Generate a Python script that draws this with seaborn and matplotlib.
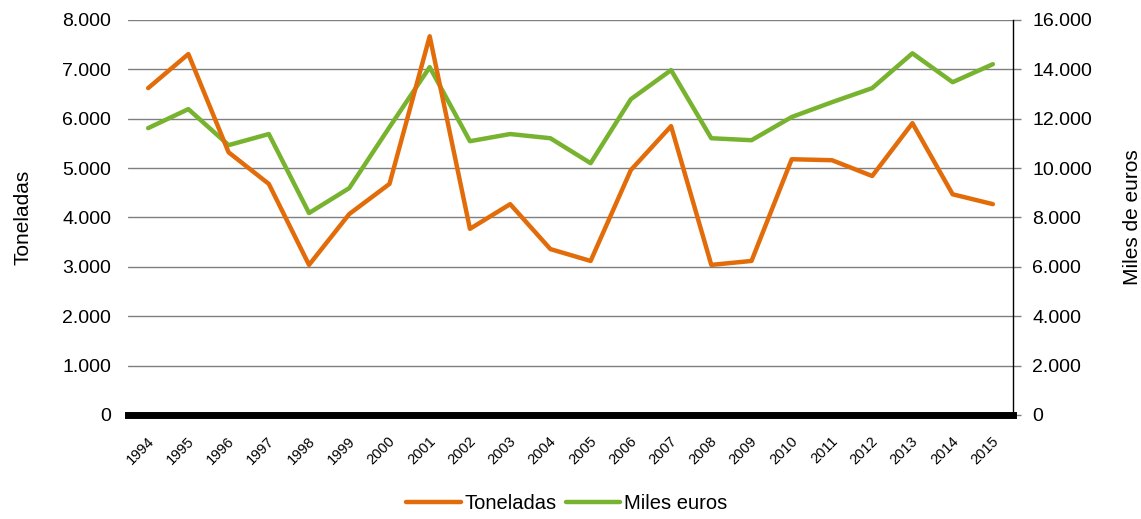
import pandas as pd
import seaborn as sns
from matplotlib import pyplot as plt
from matplotlib import transforms
from matplotlib.ticker import FuncFormatter
from matplotlib.lines import Line2D

years = [str(y) for y in range(1994, 2016)]
toneladas = [6620, 7310, 5320, 4680, 3040, 4070, 4680, 7670, 3770, 4270, 3360,
             3120, 4960, 5850, 3040, 3120, 5180, 5160, 4840, 5910, 4470, 4270]
miles_euros = [11620, 12390, 10930, 11380, 8180, 9190, 11660, 14090, 11090, 11380, 11210,
               10200, 12790, 13970, 11210, 11130, 12070, 12670, 13240, 14650, 13480, 14210]

ORANGE = '#E36C0A'
GREEN = '#77B32F'

sns.set_style('white', {'text.color': 'black', 'axes.labelcolor': 'black',
                        'xtick.color': 'black', 'ytick.color': 'black'})
plt.rcParams['font.family'] = ['Liberation Sans', 'DejaVu Sans']

df = pd.DataFrame({'year': years, 'Toneladas': toneladas, 'Miles euros': miles_euros})

fig = plt.figure(figsize=(11.41, 5.19), dpi=100)
ax = fig.add_axes([0.1122, 0.2004, 0.7756, 0.7611])
ax2 = ax.twinx()

sns.lineplot(data=df, x='year', y='Toneladas', color=ORANGE, lw=3.2, sort=False, ax=ax)
sns.lineplot(data=df, x='year', y='Miles euros', color=GREEN, lw=3.2, sort=False, ax=ax2)
ax2.set_zorder(ax.get_zorder() - 1)
ax.patch.set_visible(False)

dots = FuncFormatter(lambda v, p: f'{int(v):,}'.replace(',', '.'))

ax.set_ylim(0, 8000)
ax.set_yticks(range(0, 8001, 1000))
ax.yaxis.set_major_formatter(dots)
ax.set_xlim(-0.5, len(years) - 0.5)
ax2.set_ylim(0, 16000)
ax2.set_yticks(range(0, 16001, 2000))
ax2.yaxis.set_major_formatter(dots)

ax2.grid(axis='y', color='#7f7f7f', lw=1.0)
ax.grid(False)

for a in (ax, ax2):
    for s in a.spines.values():
        s.set_visible(False)
ax2.spines['right'].set_visible(True)
ax2.spines['right'].set_color('black')
ax2.spines['right'].set_linewidth(1.0)
ax.spines['bottom'].set_visible(True)
ax.spines['bottom'].set_color('black')
ax.spines['bottom'].set_linewidth(5)
ax.spines['bottom'].set_zorder(5)

ax.tick_params(axis='y', length=0, labelsize=14, pad=12, labelcolor='black')
ax2.tick_params(axis='y', length=6, width=1, color='#7f7f7f', labelsize=14, pad=8,
                direction='out', labelcolor='black')
ax.tick_params(axis='x', length=0, labelsize=10.5, pad=14, labelcolor='black')
shift = transforms.ScaledTranslation(-1 / 72, 0, fig.dpi_scale_trans)
for lab in ax.get_xticklabels():
    lab.set_rotation(45)
    lab.set_ha('right')
    lab.set_rotation_mode('anchor')
    lab.set_transform(lab.get_transform() + shift)

ax.set_xlabel('')
ax.set_ylabel('Toneladas', fontsize=15, color='black')
ax.yaxis.set_label_coords(-0.108, 0.5)
ax2.set_ylabel('Miles de euros', fontsize=15, color='black')
ax2.yaxis.set_label_coords(1.124, 0.5)

handles = [Line2D([], [], color=ORANGE, lw=3.2), Line2D([], [], color=GREEN, lw=3.2)]
leg = fig.legend(handles, ['Toneladas', 'Miles euros'], loc='center', bbox_to_anchor=(0.497, 0.03),
                 ncol=2, frameon=False, fontsize=14.5, handlelength=2.7, handletextpad=0.2,
                 columnspacing=0.45)
for t in leg.get_texts():
    t.set_color('black')

fig.savefig('out.png', dpi=100)
